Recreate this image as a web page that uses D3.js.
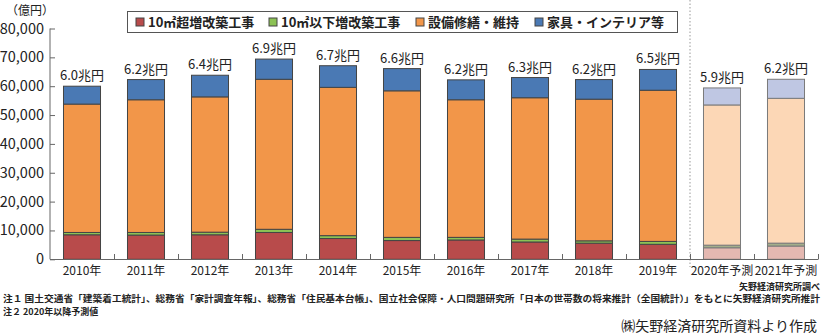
<!DOCTYPE html>
<html><head><meta charset="utf-8">
<script src="https://cdn.jsdelivr.net/npm/d3@7"></script>
<style>
body{margin:0;background:#fff;}
svg{display:block;}
text{font-family:"Liberation Sans Narrow","Noto Sans CJK JP",sans-serif;fill:#222;}
.jp{font-family:"Noto Sans CJK JP",sans-serif;}
</style></head>
<body><svg id="c" width="827" height="335"></svg>
<script>
const categories = ["2010年","2011年","2012年","2013年","2014年","2015年","2016年","2017年","2018年","2019年","2020年予測","2021年予測"];
const seriesNames = ["10㎡超増改築工事","10㎡以下増改築工事","設備修繕・維持","家具・インテリア等"];
const over10   = [8500,8400,8500,9300,7200,6500,6700,6000,5600,5200,4000,4600];
const under10  = [800, 900, 900, 1100,1000,1100,900, 1000,800, 1000,900, 1000];
const repair   = [44500,46000,46900,52000,51400,50800,47700,49000,49100,52400,48600,50200];
const furniture= [6200,7000,7500,7000,7500,7700,6900,7000,6800,7200,5900,6600];
const totalLabels = ["6.0兆円","6.2兆円","6.4兆円","6.9兆円","6.7兆円","6.6兆円","6.2兆円","6.3兆円","6.2兆円","6.5兆円","5.9兆円","6.2兆円"];
const forecast = [false,false,false,false,false,false,false,false,false,false,true,true];
const yTicks = [0,10000,20000,30000,40000,50000,60000,70000,80000];

const colors = ["#b84b4b","#8cc255","#f29649","#4a79b4"];
const lightColors = ["#e4b8b1","#a3ae8a","#fcd7b6","#bfc7e3"];

const svg = d3.select("#c");
const x = d3.scaleBand().domain(categories).range([50,818]).paddingInner(0.406).paddingOuter(0.203);
const y = d3.scaleLinear().domain([0,80000]).range([259.3,28.5]);

const rows = categories.map((c,i)=>({cat:c, s0:over10[i], s1:under10[i], s2:repair[i], s3:furniture[i], i}));
const stack = d3.stack().keys(["s0","s1","s2","s3"])(rows);

// separator
svg.append("line").attr("x1",690).attr("x2",690).attr("y1",0).attr("y2",267)
  .attr("stroke","#999").attr("stroke-width",1).attr("stroke-dasharray","1.5,2");

// bars
stack.forEach((layer,k)=>{
  svg.append("g").selectAll("rect").data(layer).join("rect")
    .attr("x",d=>x(d.data.cat)+0.5)
    .attr("width",x.bandwidth()-1)
    .attr("y",d=>y(d[1]))
    .attr("height",d=>y(d[0])-y(d[1]))
    .attr("fill",d=>forecast[d.data.i]?lightColors[k]:colors[k])
    .attr("stroke",d=>forecast[d.data.i]?"#7a7a7a":"#444")
    .attr("stroke-width",1);
});

// total labels
svg.append("g").selectAll("text").data(rows).join("text")
  .attr("x",d=>x(d.cat)+x.bandwidth()/2)
  .attr("y",d=>y(d.s0+d.s1+d.s2+d.s3)-6)
  .attr("text-anchor","middle").attr("font-size",13)
  .text((d,i)=>totalLabels[i]);

// y axis
const yAxis = svg.append("g").attr("transform","translate(50,0)")
  .call(d3.axisRight(y).tickValues(yTicks).tickSize(5).tickFormat(""));
yAxis.select(".domain").attr("stroke","#666").attr("d","M0,"+y(80000)+"V"+y(0));
yAxis.selectAll(".tick line").attr("stroke","#666");
svg.append("g").selectAll("text").data(yTicks).join("text")
  .attr("x",44).attr("y",d=>y(d)+5).attr("text-anchor","end").attr("font-size",14.5)
  .text(d=>d3.format(",")(d));

svg.append("text").attr("class","jp").attr("x",6).attr("y",15).attr("font-size",12).text("（億円）");

// x axis
svg.append("line").attr("x1",50).attr("x2",818).attr("y1",259.5).attr("y2",259.5).attr("stroke","#666");
const bounds = categories.slice(1).map(c=>x(c)-x.step()*x.paddingInner()/2);
bounds.push(818);
svg.append("g").selectAll("line").data(bounds).join("line")
  .attr("x1",d=>Math.round(d)+0.5).attr("x2",d=>Math.round(d)+0.5).attr("y1",254).attr("y2",259.5).attr("stroke","#666");
svg.append("g").selectAll("text").data(categories).join("text")
  .attr("x",d=>x(d)+x.bandwidth()/2).attr("y",275).attr("text-anchor","middle").attr("font-size",12)
  .text(d=>d);

// legend
svg.append("rect").attr("x",127.5).attr("y",11.5).attr("width",550).attr("height",21)
  .attr("fill","#fff").attr("stroke","#555");
const legX = [136,269,416,535];
seriesNames.forEach((n,k)=>{
  svg.append("rect").attr("x",legX[k]).attr("y",18).attr("width",8).attr("height",8)
    .attr("fill",colors[k]).attr("stroke","#444");
  svg.append("text").attr("class","jp").attr("x",legX[k]+12).attr("y",27).attr("font-size",13).attr("font-weight","bold")
    .attr("fill","#222").text(n);
});

// source & notes
svg.append("text").attr("class","jp").attr("x",820).attr("y",290).attr("text-anchor","end").attr("font-size",9).attr("font-weight","bold").text("矢野経済研究所調べ");
svg.append("text").attr("class","jp").attr("x",3).attr("y",302).attr("font-size",9).attr("font-weight","bold")
  .attr("textLength",817).attr("lengthAdjust","spacingAndGlyphs")
  .text("注１ 国土交通省「建築着工統計」、総務省「家計調査年報」、総務省「住民基本台帳」、国立社会保障・人口問題研究所「日本の世帯数の将来推計（全国統計）」をもとに矢野経済研究所推計");
svg.append("text").attr("class","jp").attr("x",3).attr("y",315).attr("font-size",9).attr("font-weight","bold").text("注２ 2020年以降予測値");
svg.append("text").attr("class","jp").attr("x",817).attr("y",331).attr("text-anchor","end").attr("font-size",14).text("㈱矢野経済研究所資料より作成");
</script></body></html>
